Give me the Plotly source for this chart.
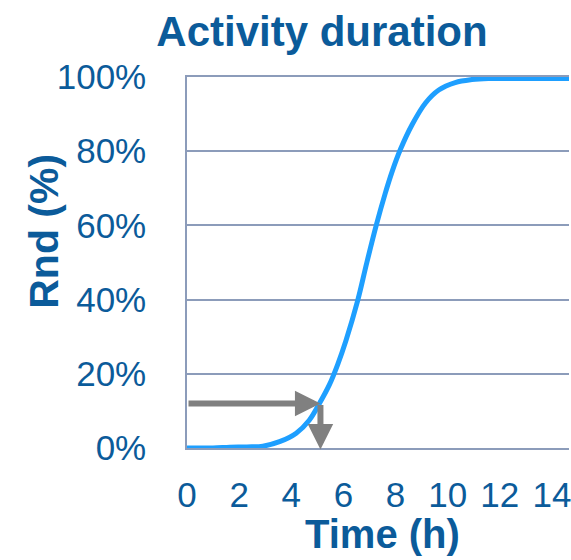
import plotly.graph_objects as go

# Data
time_h = [0, 1.0, 1.64, 2.3, 2.91, 3.55, 4.19, 4.69, 5.08, 5.46, 5.78, 6.1, 6.54, 6.9,
          7.26, 7.6, 7.87, 8.19, 8.64, 9.15, 9.66, 10.29, 10.93, 11.56, 12.5, 14.7]
rnd = [0, 0, 0.002, 0.003, 0.005, 0.017, 0.040, 0.075, 0.12, 0.17, 0.225, 0.29, 0.395, 0.50,
       0.60, 0.685, 0.745, 0.805, 0.872, 0.93, 0.965, 0.985, 0.993, 0.996, 0.996, 0.996]
x_ticks = [0, 2, 4, 6, 8, 10, 12, 14]
y_ticks = [0, 0.2, 0.4, 0.6, 0.8, 1.0]
read_time = 5.12
read_rnd = 0.12

TEXT = '#0B5B9A'
GRID = '#8C9CBA'
CURVE = '#1E9FFF'
ARROW = '#808080'
FONT = 'Liberation Sans, Arial, sans-serif'

fig = go.Figure()
fig.add_trace(go.Scatter(x=time_h, y=rnd, mode='lines',
                         line=dict(color=CURVE, width=5, shape='spline', smoothing=1.0),
                         cliponaxis=False, hoverinfo='skip'))

# reading arrows
fig.add_annotation(x=read_time, y=read_rnd, ax=0, ay=read_rnd,
                   xref='x', yref='y', axref='x', ayref='y', text='',
                   showarrow=True, arrowhead=2, arrowsize=0.85, arrowwidth=6,
                   arrowcolor=ARROW, standoff=0)
fig.add_annotation(x=read_time, y=-0.004, ax=read_time, ay=read_rnd,
                   xref='x', yref='y', axref='x', ayref='y', text='',
                   showarrow=True, arrowhead=2, arrowsize=0.85, arrowwidth=6,
                   arrowcolor=ARROW, standoff=0)

# axis titles as annotations for exact placement
PLOT_H = 371
fig.add_annotation(text='<b>Rnd (%)</b>', xref='paper', yref='paper',
                   x=-(187 - 43) / 384, y=(448 - 231) / PLOT_H, showarrow=False,
                   textangle=-90, font=dict(size=41, color=TEXT, family=FONT),
                   xanchor='center', yanchor='middle')
fig.add_annotation(text='<b>Time (h)</b>', xref='paper', yref='paper',
                   x=(384 - 187) / 384, y=-(534 - 448) / PLOT_H, showarrow=False,
                   font=dict(size=40, color=TEXT, family=FONT),
                   xanchor='center', yanchor='middle')

fig.update_layout(
    width=571, height=560,
    margin=dict(l=187, r=0, t=77, b=112),
    paper_bgcolor='white', plot_bgcolor='white',
    showlegend=False,
    font=dict(family=FONT, color=TEXT),
    title=dict(text='<b>Activity duration</b>', x=322 / 571, y=1 - 31 / 560,
               xanchor='center', yanchor='middle', xref='container', yref='container',
               font=dict(size=42, color=TEXT, family=FONT)),
    xaxis=dict(range=[0, 384 / 26.2], tickvals=x_ticks, showgrid=False,
               zeroline=False, showline=True, mirror=True, linecolor=GRID, linewidth=1.5,
               ticks='', tickfont=dict(size=35, color=TEXT, family=FONT),
               ticklabelstandoff=15, ticklabeloverflow='allow', fixedrange=True),
    yaxis=dict(range=[0, 1], tickvals=y_ticks, tickformat='.0%',
               showgrid=True, gridcolor=GRID, gridwidth=1.5,
               zeroline=False, showline=True, linecolor=GRID, linewidth=1.5,
               ticks='', tickfont=dict(size=35, color=TEXT, family=FONT),
               ticklabelstandoff=32, fixedrange=True),
)

fig.write_html('out.html')
